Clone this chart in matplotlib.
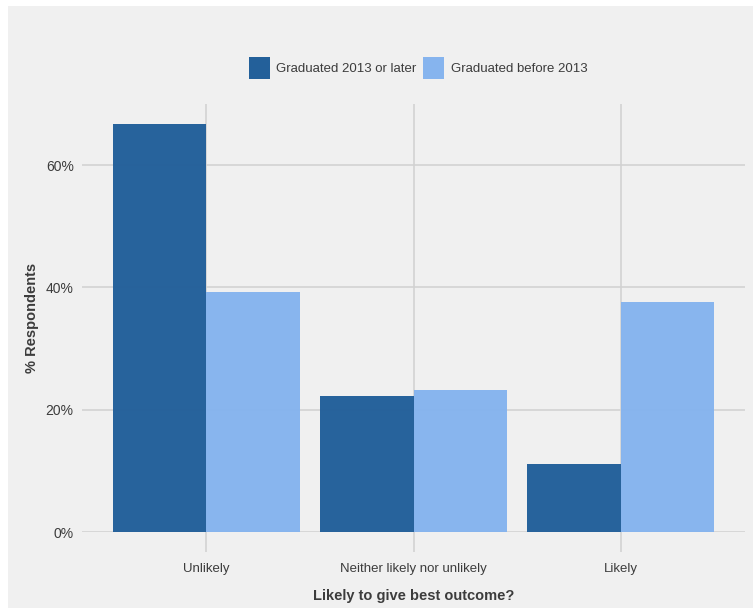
import numpy as np
import matplotlib.pyplot as plt
from matplotlib.patches import Rectangle, Patch

plt.rcParams['font.family'] = ['Liberation Sans', 'DejaVu Sans']

categories = ["Unlikely", "Neither likely nor unlikely", "Likely"]
recent = [66.7, 22.2, 11.1]        # Graduated 2013 or later
earlier = [39.3, 23.3, 37.6]       # Graduated before 2013
series_names = ["Graduated 2013 or later", "Graduated before 2013"]
y_ticks = [0, 20, 40, 60]

dark = '#23609a'
light = '#86b4ee'
bg = '#f0f0f0'
grid = '#d2d2d2'
txt = '#3c3c3c'

W, H = 753, 608
fig = plt.figure(figsize=(W / 100, H / 100), dpi=100, facecolor='white')
# grey panel background (white margin at top/left like the reference)
fig.patches.append(Rectangle((8 / W, 0), 1 - 8 / W, 1 - 6 / H,
                             transform=fig.transFigure, facecolor=bg,
                             edgecolor='none', zorder=-10))

ax = fig.add_axes([82 / W, 1 - 532 / H, (745 - 82) / W, (532 - 104) / H])
ax.set_facecolor('none')

x = np.arange(len(categories))
w = 0.45
ax.bar(x - w / 2, recent, width=w, color=dark, alpha=0.98, zorder=3)
ax.bar(x + w / 2, earlier, width=w, color=light, alpha=0.98, zorder=3)

ax.set_xlim(-0.6, 2.6)
ax.set_ylim(0, 70)
ax.set_xticks(x)
ax.set_xticklabels(categories)
ax.set_yticks(y_ticks)
ax.set_yticklabels([f"{v}%" for v in y_ticks])

ax.grid(True, color=grid, linewidth=1.2, zorder=0)
ax.set_axisbelow(True)
for s in ax.spines.values():
    s.set_visible(False)

ax.tick_params(axis='x', length=14.4, width=1.2, color=grid, pad=8,
               labelsize=9.5, labelcolor=txt)
ax.tick_params(axis='y', length=0, pad=6, labelsize=10, labelcolor=txt)

ax.set_xlabel("Likely to give best outcome?", fontsize=10.5,
              fontweight='bold', color=txt, labelpad=10)
ax.set_ylabel("% Respondents", fontsize=10.5, fontweight='bold',
              color=txt, labelpad=5)

handles = [Patch(facecolor=dark, edgecolor='none'),
           Patch(facecolor=light, edgecolor='none')]
fig.legend(handles, series_names, loc='center', bbox_to_anchor=(418 / W, 1 - 68 / H),
           ncol=2, frameon=False, fontsize=9.5, handlelength=1.6, handleheight=2.3,
           handletextpad=0.5, columnspacing=0.5, labelcolor=txt)

fig.savefig('out.png', dpi=100, facecolor='white')
